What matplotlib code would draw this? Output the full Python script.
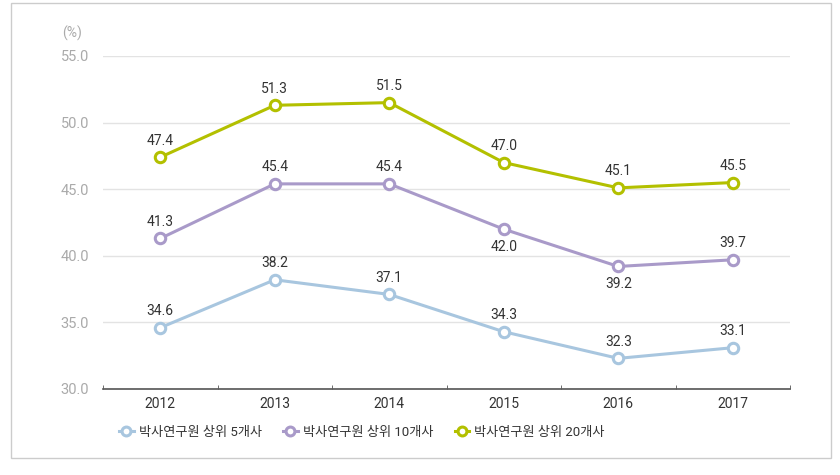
import matplotlib
matplotlib.use('Agg')
import matplotlib.pyplot as plt
from matplotlib.patches import Rectangle

plt.rcParams['font.family'] = ['Roboto', 'Noto Sans CJK KR', 'DejaVu Sans']

# 데이터
years = ['2012', '2013', '2014', '2015', '2016', '2017']
top5 = [34.6, 38.2, 37.1, 34.3, 32.3, 33.1]
top10 = [41.3, 45.4, 45.4, 42.0, 39.2, 39.7]
top20 = [47.4, 51.3, 51.5, 47.0, 45.1, 45.5]
names = ['박사연구원 상위 5개사', '박사연구원 상위 10개사', '박사연구원 상위 20개사']
colors = ['#a8c6df', '#a99ac9', '#b3c000']
# 라벨 아래쪽 표시 여부
below = [[False] * 6,
         [False, False, False, True, True, False],
         [False] * 6]

fig = plt.figure(figsize=(8.4, 4.75), dpi=100)
fig.patches.append(Rectangle((11 / 840, 1 - 458 / 475), 820 / 840, 455 / 475,
                             transform=fig.transFigure, fill=False,
                             edgecolor='#cccccc', lw=1))
ax = fig.add_axes([103 / 840, 1 - 389 / 475, 687 / 840, 333 / 475])

x = list(range(len(years)))
for vals, name, c, bl in zip([top5, top10, top20], names, colors, below):
    ax.plot(x, vals, color=c, lw=2.2, marker='o', ms=7.5, mfc='white',
            mec=c, mew=2.2, label=name, zorder=3)
    for xi, v, b in zip(x, vals, bl):
        ax.annotate(f'{v:.1f}', (xi, v), xytext=(0, -18 if b else 7),
                    textcoords='offset points', ha='center',
                    va='bottom', fontsize=10, color='#333333')

ax.set_xlim(-0.5, 5.5)
ax.set_ylim(30, 55)
ax.set_yticks([30, 35, 40, 45, 50, 55])
ax.set_yticklabels([f'{t:.1f}' for t in [30, 35, 40, 45, 50, 55]])
ax.set_xticks(x)
ax.set_xticklabels(years)
ax.set_xticks([i + 0.5 for i in range(-1, 6)], minor=True)
ax.tick_params(axis='x', which='major', length=0, labelsize=10,
               labelcolor='#333333', pad=6)
ax.tick_params(axis='x', which='minor', length=3, color='#555555', direction='in')
ax.tick_params(axis='y', length=0, labelsize=10.5, labelcolor='#aaaaaa', pad=10)
ax.grid(axis='y', color='#e3e3e3', lw=1)
for s in ['top', 'right', 'left']:
    ax.spines[s].set_visible(False)
ax.spines['bottom'].set_color('#555555')
ax.spines['bottom'].set_linewidth(1.2)
ax.text(-0.03, 1.055, '(%)', transform=ax.transAxes, ha='right',
        fontsize=10, color='#aaaaaa')

ax.legend(loc='upper center', bbox_to_anchor=(0.377, -0.075), ncol=3,
          frameon=False, fontsize=9.5, handlelength=1.1, handletextpad=0.4,
          columnspacing=1.6, markerscale=0.85, labelcolor='#333333')

fig.savefig('out.png', dpi=100)
